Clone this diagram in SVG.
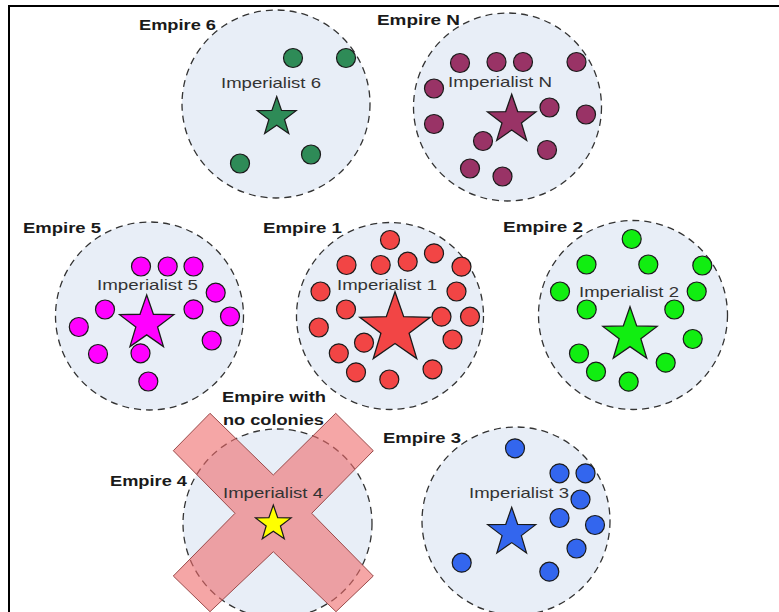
<svg xmlns="http://www.w3.org/2000/svg" xmlns:xlink="http://www.w3.org/1999/xlink" width="779" height="612" viewBox="0 0 779 612">
<style>
.bg{fill:#ffffff}
.frame{stroke:#000;stroke-width:2;fill:none}
.emp{fill:#e8eef7;stroke:#333;stroke-width:1.3;stroke-dasharray:7 5}
.col{stroke:#1a1a1a;stroke-width:1.2}
.star{stroke:#1a1a1a}
.lbl{font-family:"Liberation Sans",Arial,sans-serif;font-weight:bold;font-size:14.5px;fill:#1a1a1a}
.imp{font-family:"Liberation Sans",Arial,sans-serif;font-size:14.5px;fill:#333}
.c6{fill:#2e8b57}.cN{fill:#993366}.c5{fill:#ff00ff}.c1{fill:#f24545}.c2{fill:#11ee11}.c3{fill:#3366ee}.c4{fill:#ffff00}
.cross{fill:#ee6a6a;fill-opacity:0.6;stroke:#9a4a4a;stroke-width:1}
</style>
<defs>
<polygon id="star" points="0,-10 2.35,-3.24 9.511,-3.09 3.81,1.24 5.878,8.09 0,4 -5.878,8.09 -3.81,1.24 -9.511,-3.09 -2.35,-3.24"/>
</defs>
<rect class="bg" x="0" y="0" width="779" height="612"/>
<path class="frame" d="M9,612 V6 H779"/>

<g id="empire6">
<circle class="emp" cx="276" cy="104" r="94"/>
<text class="lbl" x="139" y="29.5" textLength="77" lengthAdjust="spacingAndGlyphs">Empire 6</text>
<text class="imp" x="221" y="88" textLength="100" lengthAdjust="spacingAndGlyphs">Imperialist 6</text>
<g class="col c6">
<circle cx="293" cy="58" r="9.5"/><circle cx="346" cy="58" r="9.5"/><circle cx="311" cy="154.5" r="9.5"/><circle cx="240" cy="163.5" r="9.5"/>
</g>
<use href="#star" class="star c6" transform="translate(276.7,117) scale(2.05)" stroke-width="0.6"/>
</g>

<g id="empireN">
<circle class="emp" cx="507.5" cy="107" r="94"/>
<text class="lbl" x="377" y="24.5" textLength="83" lengthAdjust="spacingAndGlyphs">Empire N</text>
<text class="imp" x="448" y="87" textLength="104" lengthAdjust="spacingAndGlyphs">Imperialist N</text>
<g class="col cN">
<circle cx="460" cy="63" r="9.5"/><circle cx="496.5" cy="62" r="9.5"/><circle cx="523" cy="62" r="9.5"/><circle cx="576.5" cy="62" r="9.5"/>
<circle cx="434" cy="88.5" r="9.5"/><circle cx="549.5" cy="107.5" r="9.5"/><circle cx="586" cy="114.5" r="9.5"/><circle cx="434" cy="124" r="9.5"/>
<circle cx="483" cy="141" r="9.5"/><circle cx="547" cy="150" r="9.5"/><circle cx="470" cy="168.5" r="9.5"/><circle cx="502.5" cy="176.5" r="9.5"/>
</g>
<use href="#star" class="star cN" transform="translate(511.7,119.8) scale(2.55)" stroke-width="0.5"/>
</g>

<g id="empire5">
<circle class="emp" cx="149.5" cy="316" r="94"/>
<text class="lbl" x="23" y="233" textLength="78" lengthAdjust="spacingAndGlyphs">Empire 5</text>
<text class="imp" x="97" y="290" textLength="101" lengthAdjust="spacingAndGlyphs">Imperialist 5</text>
<g class="col c5">
<circle cx="141" cy="266.5" r="9.5"/><circle cx="167.7" cy="266.5" r="9.5"/><circle cx="193.5" cy="266.5" r="9.5"/><circle cx="215.7" cy="292.7" r="9.5"/>
<circle cx="105" cy="309.5" r="9.5"/><circle cx="193.5" cy="309.3" r="9.5"/><circle cx="230" cy="316.5" r="9.5"/><circle cx="78.8" cy="327" r="9.5"/>
<circle cx="211.7" cy="340.5" r="9.5"/><circle cx="98" cy="354" r="9.5"/><circle cx="140.5" cy="353.3" r="9.5"/><circle cx="148.3" cy="381.5" r="9.5"/>
</g>
<use href="#star" class="star c5" transform="translate(146.7,323.5) scale(2.85)" stroke-width="0.45"/>
</g>

<g id="empire1">
<circle class="emp" cx="390" cy="316" r="93.5"/>
<text class="lbl" x="263" y="233" textLength="79" lengthAdjust="spacingAndGlyphs">Empire 1</text>
<text class="imp" x="337" y="290" textLength="100" lengthAdjust="spacingAndGlyphs">Imperialist 1</text>
<g class="col c1">
<circle cx="390" cy="240" r="9.5"/><circle cx="346.5" cy="265" r="9.5"/><circle cx="380.7" cy="265" r="9.5"/><circle cx="407.7" cy="261.7" r="9.5"/>
<circle cx="434" cy="253.3" r="9.5"/><circle cx="461.5" cy="266.7" r="9.5"/><circle cx="320.5" cy="291.5" r="9.5"/><circle cx="456.5" cy="291.5" r="9.5"/>
<circle cx="346" cy="309.5" r="9.5"/><circle cx="441.5" cy="316.7" r="9.5"/><circle cx="470" cy="316.7" r="9.5"/><circle cx="318.8" cy="327.5" r="9.5"/>
<circle cx="452.5" cy="339.5" r="9.5"/><circle cx="364" cy="342.7" r="9.5"/><circle cx="338.8" cy="353.3" r="9.5"/><circle cx="356" cy="372.3" r="9.5"/>
<circle cx="389.3" cy="379.5" r="9.5"/><circle cx="432.5" cy="369.3" r="9.5"/>
</g>
<use href="#star" class="star c1" transform="translate(395,328.7) scale(3.7)" stroke-width="0.35"/>
</g>

<g id="empire2">
<circle class="emp" cx="633" cy="315" r="94.5"/>
<text class="lbl" x="503" y="232" textLength="80" lengthAdjust="spacingAndGlyphs">Empire 2</text>
<text class="imp" x="579" y="297" textLength="100" lengthAdjust="spacingAndGlyphs">Imperialist 2</text>
<g class="col c2">
<circle cx="631.7" cy="239" r="9.5"/><circle cx="586.5" cy="264.5" r="9.5"/><circle cx="648.3" cy="264.5" r="9.5"/><circle cx="702.3" cy="265.5" r="9.5"/>
<circle cx="560" cy="291.5" r="9.5"/><circle cx="696.7" cy="291.5" r="9.5"/><circle cx="586.7" cy="309.5" r="9.5"/><circle cx="674.3" cy="309.5" r="9.5"/>
<circle cx="692.7" cy="339" r="9.5"/><circle cx="579" cy="353.5" r="9.5"/><circle cx="596" cy="371.7" r="9.5"/><circle cx="665.7" cy="362.7" r="9.5"/>
<circle cx="628.7" cy="381.7" r="9.5"/>
</g>
<use href="#star" class="star c2" transform="translate(630,335.2) scale(2.85)" stroke-width="0.45"/>
</g>

<g id="empire3">
<circle class="emp" cx="516" cy="521" r="94"/>
<text class="lbl" x="383" y="443" textLength="78" lengthAdjust="spacingAndGlyphs">Empire 3</text>
<text class="imp" x="469" y="498" textLength="100" lengthAdjust="spacingAndGlyphs">Imperialist 3</text>
<g class="col c3">
<circle cx="515" cy="448.3" r="9.5"/><circle cx="559.5" cy="473.3" r="9.5"/><circle cx="585.5" cy="473.3" r="9.5"/><circle cx="580.5" cy="499.5" r="9.5"/>
<circle cx="559.5" cy="518" r="9.5"/><circle cx="595" cy="525" r="9.5"/><circle cx="576.5" cy="548.5" r="9.5"/><circle cx="461.7" cy="562.7" r="9.5"/>
<circle cx="549.3" cy="571.7" r="9.5"/>
</g>
<use href="#star" class="star c3" transform="translate(511.7,532.5) scale(2.53)" stroke-width="0.47"/>
</g>

<g id="empire4">
<circle class="emp" cx="277.5" cy="523.5" r="94.5"/>
<polygon class="cross" points="210,413.3 273.3,475 335.7,413.3 373.3,450.7 311.7,513.3 373.3,576 336,611.7 273.3,551.7 210,611.7 173.3,576 235,513.3 173.3,450.7"/>
<text class="lbl" x="110" y="485.5" textLength="77" lengthAdjust="spacingAndGlyphs">Empire 4</text>
<text class="lbl" x="222" y="401.5" textLength="104" lengthAdjust="spacingAndGlyphs">Empire with</text>
<text class="lbl" x="223" y="424.5" textLength="101" lengthAdjust="spacingAndGlyphs">no colonies</text>
<text class="imp" x="223" y="498" textLength="100" lengthAdjust="spacingAndGlyphs">Imperialist 4</text>
<use href="#star" class="star c4" transform="translate(273.3,523.7) scale(1.87)" stroke-width="0.65"/>
</g>
</svg>
